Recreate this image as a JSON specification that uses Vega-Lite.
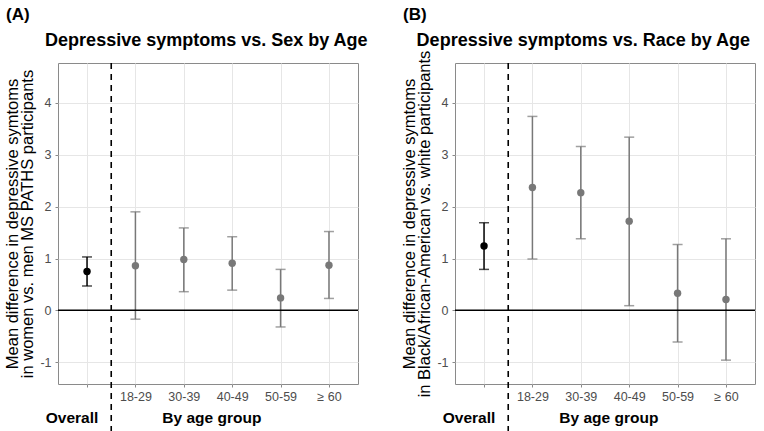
{
  "$schema": "https://vega.github.io/schema/vega-lite/v6.json",
  "padding": {"left": 3, "top": 5, "right": 5, "bottom": 0},
  "background": "white",
  "bounds": "flush",
  "spacing": 97,
  "datasets": {
    "sex": [
      {"cat": "Overall", "kind": "Overall", "est": 0.75, "lo": 0.47, "hi": 1.03},
      {"cat": "18-29", "kind": "Age group", "est": 0.86, "lo": -0.17, "hi": 1.90},
      {"cat": "30-39", "kind": "Age group", "est": 0.98, "lo": 0.36, "hi": 1.59},
      {"cat": "40-49", "kind": "Age group", "est": 0.91, "lo": 0.39, "hi": 1.42},
      {"cat": "50-59", "kind": "Age group", "est": 0.24, "lo": -0.32, "hi": 0.79},
      {"cat": "≥ 60", "kind": "Age group", "est": 0.87, "lo": 0.23, "hi": 1.52}
    ],
    "race": [
      {"cat": "Overall", "kind": "Overall", "est": 1.24, "lo": 0.79, "hi": 1.69},
      {"cat": "18-29", "kind": "Age group", "est": 2.37, "lo": 0.99, "hi": 3.74},
      {"cat": "30-39", "kind": "Age group", "est": 2.27, "lo": 1.38, "hi": 3.16},
      {"cat": "40-49", "kind": "Age group", "est": 1.72, "lo": 0.09, "hi": 3.34},
      {"cat": "50-59", "kind": "Age group", "est": 0.33, "lo": -0.61, "hi": 1.27},
      {"cat": "≥ 60", "kind": "Age group", "est": 0.21, "lo": -0.96, "hi": 1.38}
    ]
  },
  "config": {
    "font": "Liberation Sans",
    "view": {"stroke": "#8a8a8a", "strokeWidth": 1},
    "axis": {
      "domain": false,
      "labelFont": "Liberation Sans",
      "labelColor": "#4d4d4d",
      "labelFontSize": 12.5,
      "tickColor": "#8a8a8a",
      "tickSize": 3,
      "tickWidth": 1,
      "gridColor": "#e6e6e6",
      "gridWidth": 1,
      "titleFont": "Liberation Sans",
      "titleColor": "#000000",
      "titleFontWeight": "normal",
      "titleFontSize": 16.5
    },
    "text": {"font": "Liberation Sans"}
  },
  "hconcat": [
    {
      "width": 300,
      "height": 321,
      "resolve": {"scale": {"x": "independent"}},
      "layer": [
        {
          "data": {"name": "sex"},
          "encoding": {
            "x": {
              "field": "cat", "type": "ordinal",
              "sort": ["Overall", "18-29", "30-39", "40-49", "50-59", "≥ 60"],
              "scale": {"type": "point", "padding": 0.6},
              "axis": {"title": null, "labelAngle": 0, "labelPadding": 3, "grid": true, "labelExpr": "datum.label === 'Overall' ? '' : datum.label"}
            },
            "color": {"field": "kind", "type": "nominal", "scale": {"domain": ["Overall", "Age group"], "range": ["#000000", "#787878"]}, "legend": null}
          },
          "layer": [
            {
              "mark": {"type": "rule", "strokeWidth": 1.5},
              "encoding": {
                "y": {
                  "field": "lo", "type": "quantitative",
                  "scale": {"domain": [-1.42, 4.77], "nice": false, "zero": false},
                  "axis": {
                    "title": ["Mean difference in depressive symtoms", "in women vs. men MS PATHS participants"],
                    "titleLineHeight": 15.5,
                    "titlePadding": 4,
                    "labelPadding": 4,
                    "values": [-1, -0.5, 0, 0.5, 1, 1.5, 2, 2.5, 3, 3.5, 4, 4.5],
                    "labelExpr": "datum.value % 1 === 0 ? '' + datum.value : ''",
                    "gridColor": {"condition": {"test": "datum.value % 1 !== 0", "value": "#f1f1f1"}, "value": "#e6e6e6"},
                    "tickOpacity": {"condition": {"test": "datum.value % 1 !== 0", "value": 0}, "value": 1}
                  }
                },
                "y2": {"field": "hi"}
              }
            },
            {
              "mark": {"type": "tick", "size": 10, "thickness": 1.5},
              "encoding": {"y": {"field": "lo", "type": "quantitative", "scale": {"domain": [-1.42, 4.77], "nice": false, "zero": false}}}
            },
            {
              "mark": {"type": "tick", "size": 10, "thickness": 1.5},
              "encoding": {"y": {"field": "hi", "type": "quantitative", "scale": {"domain": [-1.42, 4.77], "nice": false, "zero": false}}}
            },
            {
              "mark": {"type": "circle", "size": 55, "opacity": 1},
              "encoding": {"y": {"field": "est", "type": "quantitative", "scale": {"domain": [-1.42, 4.77], "nice": false, "zero": false}}}
            }
          ]
        },
        {
          "data": {"values": [{}]},
          "mark": {"type": "rule", "color": "#000000", "strokeWidth": 1.5},
          "encoding": {"y": {"datum": 0, "type": "quantitative", "scale": {"domain": [-1.42, 4.77], "nice": false, "zero": false}}}
        },
        {
          "data": {"values": [{}]},
          "mark": {"type": "rule", "color": "#000000", "strokeWidth": 1.6, "strokeDash": [6, 5]},
          "encoding": {
            "x": {"datum": 1.5, "type": "quantitative", "scale": {"domain": [0.4, 6.6], "nice": false, "zero": false}, "axis": null},
            "y": {"datum": 4.77, "type": "quantitative", "scale": {"domain": [-1.42, 4.77], "nice": false, "zero": false}},
            "y2": {"datum": -2.6}
          }
        },
        {
          "data": {"values": [{}]},
          "mark": {"type": "text", "text": "(A)", "fontSize": 17, "fontWeight": "bold", "align": "left", "baseline": "alphabetic", "color": "#000000"},
          "encoding": {
            "x": {"datum": -0.673, "type": "quantitative", "scale": {"domain": [0.4, 6.6], "nice": false, "zero": false}, "axis": null},
            "y": {"datum": 5.6, "type": "quantitative", "scale": {"domain": [-1.42, 4.77], "nice": false, "zero": false}}
          }
        },
        {
          "data": {"values": [{}]},
          "mark": {"type": "text", "text": "Depressive symptoms vs. Sex by Age", "fontSize": 18, "fontWeight": "bold", "align": "center", "baseline": "alphabetic", "color": "#000000"},
          "encoding": {
            "x": {"datum": 3.466, "type": "quantitative", "scale": {"domain": [0.4, 6.6], "nice": false, "zero": false}, "axis": null},
            "y": {"datum": 5.1, "type": "quantitative", "scale": {"domain": [-1.42, 4.77], "nice": false, "zero": false}}
          }
        },
        {
          "data": {"values": [{}]},
          "mark": {"type": "text", "text": "Overall", "fontSize": 15.5, "fontWeight": "bold", "align": "center", "baseline": "alphabetic", "color": "#000000"},
          "encoding": {
            "x": {"datum": 0.689, "type": "quantitative", "scale": {"domain": [0.4, 6.6], "nice": false, "zero": false}, "axis": null},
            "y": {"datum": -2.176, "type": "quantitative", "scale": {"domain": [-1.42, 4.77], "nice": false, "zero": false}}
          }
        },
        {
          "data": {"values": [{}]},
          "mark": {"type": "text", "text": "By age group", "fontSize": 15.5, "fontWeight": "bold", "align": "center", "baseline": "alphabetic", "color": "#000000"},
          "encoding": {
            "x": {"datum": 3.58, "type": "quantitative", "scale": {"domain": [0.4, 6.6], "nice": false, "zero": false}, "axis": null},
            "y": {"datum": -2.176, "type": "quantitative", "scale": {"domain": [-1.42, 4.77], "nice": false, "zero": false}}
          }
        }
      ]
    },
    {
      "width": 300,
      "height": 321,
      "resolve": {"scale": {"x": "independent"}},
      "layer": [
        {
          "data": {"name": "race"},
          "encoding": {
            "x": {
              "field": "cat", "type": "ordinal",
              "sort": ["Overall", "18-29", "30-39", "40-49", "50-59", "≥ 60"],
              "scale": {"type": "point", "padding": 0.6},
              "axis": {"title": null, "labelAngle": 0, "labelPadding": 3, "grid": true, "labelExpr": "datum.label === 'Overall' ? '' : datum.label"}
            },
            "color": {"field": "kind", "type": "nominal", "scale": {"domain": ["Overall", "Age group"], "range": ["#000000", "#787878"]}, "legend": null}
          },
          "layer": [
            {
              "mark": {"type": "rule", "strokeWidth": 1.5},
              "encoding": {
                "y": {
                  "field": "lo", "type": "quantitative",
                  "scale": {"domain": [-1.42, 4.77], "nice": false, "zero": false},
                  "axis": {
                    "title": ["Mean difference in depressive symtoms", "in  Black/African-American vs. white participants"],
                    "titleLineHeight": 15.5,
                    "titlePadding": 4,
                    "labelPadding": 4,
                    "values": [-1, -0.5, 0, 0.5, 1, 1.5, 2, 2.5, 3, 3.5, 4, 4.5],
                    "labelExpr": "datum.value % 1 === 0 ? '' + datum.value : ''",
                    "gridColor": {"condition": {"test": "datum.value % 1 !== 0", "value": "#f1f1f1"}, "value": "#e6e6e6"},
                    "tickOpacity": {"condition": {"test": "datum.value % 1 !== 0", "value": 0}, "value": 1}
                  }
                },
                "y2": {"field": "hi"}
              }
            },
            {
              "mark": {"type": "tick", "size": 10, "thickness": 1.5},
              "encoding": {"y": {"field": "lo", "type": "quantitative", "scale": {"domain": [-1.42, 4.77], "nice": false, "zero": false}}}
            },
            {
              "mark": {"type": "tick", "size": 10, "thickness": 1.5},
              "encoding": {"y": {"field": "hi", "type": "quantitative", "scale": {"domain": [-1.42, 4.77], "nice": false, "zero": false}}}
            },
            {
              "mark": {"type": "circle", "size": 55, "opacity": 1},
              "encoding": {"y": {"field": "est", "type": "quantitative", "scale": {"domain": [-1.42, 4.77], "nice": false, "zero": false}}}
            }
          ]
        },
        {
          "data": {"values": [{}]},
          "mark": {"type": "rule", "color": "#000000", "strokeWidth": 1.5},
          "encoding": {"y": {"datum": 0, "type": "quantitative", "scale": {"domain": [-1.42, 4.77], "nice": false, "zero": false}}}
        },
        {
          "data": {"values": [{}]},
          "mark": {"type": "rule", "color": "#000000", "strokeWidth": 1.6, "strokeDash": [6, 5]},
          "encoding": {
            "x": {"datum": 1.5, "type": "quantitative", "scale": {"domain": [0.4, 6.6], "nice": false, "zero": false}, "axis": null},
            "y": {"datum": 4.77, "type": "quantitative", "scale": {"domain": [-1.42, 4.77], "nice": false, "zero": false}},
            "y2": {"datum": -2.6}
          }
        },
        {
          "data": {"values": [{}]},
          "mark": {"type": "text", "text": "(B)", "fontSize": 17, "fontWeight": "bold", "align": "left", "baseline": "alphabetic", "color": "#000000"},
          "encoding": {
            "x": {"datum": -0.673, "type": "quantitative", "scale": {"domain": [0.4, 6.6], "nice": false, "zero": false}, "axis": null},
            "y": {"datum": 5.6, "type": "quantitative", "scale": {"domain": [-1.42, 4.77], "nice": false, "zero": false}}
          }
        },
        {
          "data": {"values": [{}]},
          "mark": {"type": "text", "text": "Depressive symptoms vs. Race by Age", "fontSize": 18, "fontWeight": "bold", "align": "center", "baseline": "alphabetic", "color": "#000000"},
          "encoding": {
            "x": {"datum": 3.053, "type": "quantitative", "scale": {"domain": [0.4, 6.6], "nice": false, "zero": false}, "axis": null},
            "y": {"datum": 5.1, "type": "quantitative", "scale": {"domain": [-1.42, 4.77], "nice": false, "zero": false}}
          }
        },
        {
          "data": {"values": [{}]},
          "mark": {"type": "text", "text": "Overall", "fontSize": 15.5, "fontWeight": "bold", "align": "center", "baseline": "alphabetic", "color": "#000000"},
          "encoding": {
            "x": {"datum": 0.689, "type": "quantitative", "scale": {"domain": [0.4, 6.6], "nice": false, "zero": false}, "axis": null},
            "y": {"datum": -2.176, "type": "quantitative", "scale": {"domain": [-1.42, 4.77], "nice": false, "zero": false}}
          }
        },
        {
          "data": {"values": [{}]},
          "mark": {"type": "text", "text": "By age group", "fontSize": 15.5, "fontWeight": "bold", "align": "center", "baseline": "alphabetic", "color": "#000000"},
          "encoding": {
            "x": {"datum": 3.58, "type": "quantitative", "scale": {"domain": [0.4, 6.6], "nice": false, "zero": false}, "axis": null},
            "y": {"datum": -2.176, "type": "quantitative", "scale": {"domain": [-1.42, 4.77], "nice": false, "zero": false}}
          }
        }
      ]
    }
  ]
}
